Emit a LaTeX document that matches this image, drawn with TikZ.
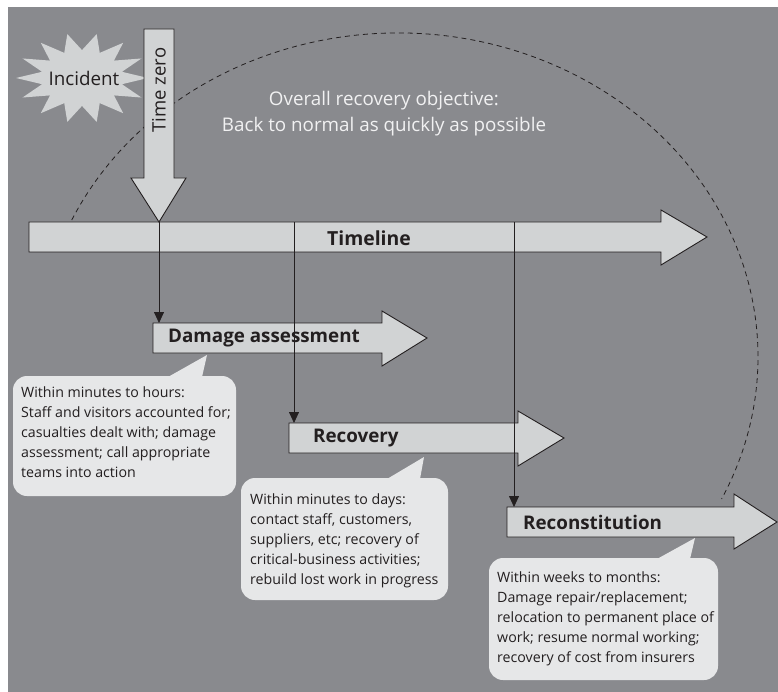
\documentclass[tikz,border=0pt]{standalone}
\usepackage{fontspec}
\setmainfont{Open Sans}
\usetikzlibrary{arrows.meta}
\definecolor{panel}{RGB}{137,138,142}
\definecolor{bar}{RGB}{209,211,212}
\definecolor{bubble}{RGB}{230,231,232}
\definecolor{ink}{RGB}{35,31,32}
\definecolor{note}{RGB}{241,241,242}

\tikzset{
  bararrow/.style={draw=ink, fill=bar, line width=0.9pt},
  phase/.style={text=ink, font=\bfseries\fontsize{18.8}{20}\selectfont, inner sep=0pt},
  bubbletext/.style={anchor=north west, text=ink, align=left, inner sep=0pt, font=\fontsize{14.2}{20}\selectfont},
  link/.style={draw=ink, line width=0.8pt, -{Triangle[length=11pt,width=10pt]}}
}

\begin{document}
\begin{tikzpicture}[x=1pt, y=-1pt]
\useasboundingbox (0,0) rectangle (778,692);
\fill[panel] (8,7) rectangle (778,692);
% overall objective
\draw[ink, line width=0.8pt, dash pattern=on 5pt off 4pt] (398,357) ++(205:360 and 324) arc[start angle=205, end angle=386, x radius=360, y radius=324];
\node[align=center, text=note, font=\fontsize{18.8}{26}\selectfont] (goal) at (384,114) {Overall recovery objective:\\Back to normal as quickly as possible};
% incident
\fill[bar] (148,78) \foreach \k in {1,...,27} {
  -- ({82+66*(1-0.38*mod(\k,2))*cos(\k*360/28)},{78-45*(1-0.38*mod(\k,2))*sin(\k*360/28)})
} -- cycle;
\node[text=ink, font=\fontsize{18.8}{20}\selectfont] (incident) at (84,78) {Incident};
% time zero and timeline
\draw[bararrow] (29,222) -- (661,222) -- (661,210) -- (707,237) -- (661,265) -- (661,252) -- (29,252) -- cycle;
\draw[bararrow] (144,29) -- (174,29) -- (174,178) -- (186,178) -- (159,222) -- (131,178) -- (144,178) -- cycle;
\node[rotate=90, text=ink, font=\fontsize{18.5}{20}\selectfont] (zero) at (159,90) {Time zero};
\node[phase, font=\bfseries\fontsize{19.4}{20}\selectfont] (timeline) at (369,238) {Timeline};
% phases
\draw[bararrow] (153,323) -- (382,323) -- (382,311) -- (427,338) -- (382,366) -- (382,353) -- (153,353) -- cycle;
\draw[bararrow] (289,423) -- (518,423) -- (518,411) -- (564,438) -- (518,466) -- (518,453) -- (289,453) -- cycle;
\draw[bararrow] (507,507) -- (734,507) -- (734,494) -- (777,522) -- (734,549) -- (734,537) -- (507,537) -- cycle;
\node[phase, anchor=west] (damage) at (168,338) {Damage assessment};
\node[phase, anchor=west] (recovery) at (313,438) {Recovery};
\node[phase, anchor=west] (recon) at (523,522) {Reconstitution};
\coordinate (t1) at (159,222);
\coordinate (t2) at (294,222);
\coordinate (t3) at (514,222);
\coordinate (p1) at (159,323);
\coordinate (p2) at (294,423);
\coordinate (p3) at (514,507);
\draw[link] (t1) -- (p1);
\draw[link] (t2) -- (p2);
\draw[link] (t3) -- (p3);
% callouts
\fill[bubble, rounded corners=14pt] (13,376) rectangle (236,496);
\fill[bubble] (168,377) -- (207,355) -- (202,377) -- cycle;
\fill[bubble, rounded corners=14pt] (241,478) rectangle (448,600);
\fill[bubble] (387,479) -- (424,457) -- (420,479) -- cycle;
\fill[bubble, rounded corners=14pt] (489,558) rectangle (718,680);
\fill[bubble] (657,559) -- (695,538) -- (690,559) -- cycle;
\node[bubbletext] (hours) at (21,387) {Within minutes to hours:\\Staff and visitors accounted for;\\casualties dealt with; damage\\assessment; call appropriate\\teams into action};
\node[bubbletext] (days) at (250,494) {Within minutes to days:\\contact staff, customers,\\suppliers, etc; recovery of\\critical-business activities;\\rebuild lost work in progress};
\node[bubbletext] (months) at (497,572) {Within weeks to months:\\Damage repair/replacement;\\relocation to permanent place of\\work; resume normal working;\\recovery of cost from insurers};
\end{tikzpicture}
\end{document}
